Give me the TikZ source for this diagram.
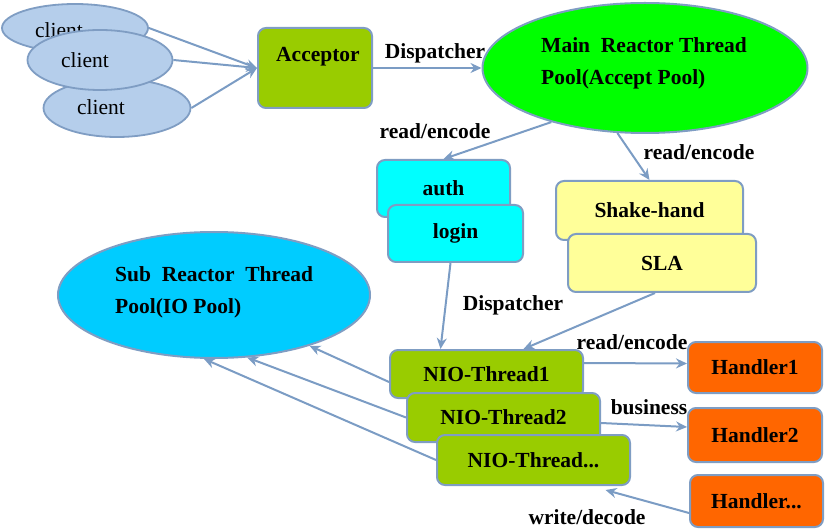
\documentclass[tikz,border=0pt]{standalone}
\usepackage{fontspec}
\setmainfont{Liberation Serif}
\usetikzlibrary{shapes.geometric,arrows.meta}
\definecolor{edgeblue}{HTML}{7B9CC4}
\definecolor{bordblue}{HTML}{7F9DC3}
\definecolor{clientfill}{HTML}{B5CEEB}
\definecolor{accgreen}{HTML}{99CC00}
\definecolor{mainfill}{HTML}{00FF00}
\definecolor{cyanfill}{HTML}{00FFFF}
\definecolor{yelfill}{HTML}{FFFF99}
\definecolor{subfill}{HTML}{00CCFF}
\definecolor{orangefill}{HTML}{FF6600}
\begin{document}
\begin{tikzpicture}[x=1pt,y=-1pt,
  every node/.style={inner sep=0pt},
  txt/.style={font=\fontsize{21.5}{32}\selectfont},
  lbl/.style={font=\bfseries\fontsize{21.5}{32}\selectfont},
  client/.style={ellipse, draw=bordblue, fill=clientfill, line width=1.8pt},
  rbox/.style={rectangle, rounded corners=8pt, draw=bordblue, line width=2pt, font=\bfseries\fontsize{21.5}{32}\selectfont},
  pool/.style={ellipse, draw=bordblue, line width=2pt},
  conn/.style={draw=edgeblue, line width=2pt, -{Stealth[length=11pt,width=10pt]}}
]
\useasboundingbox (0,0) rectangle (827,529);

% clients
\node[client, minimum width=146pt, minimum height=48pt] (c1) at (75,28) {};
\node[txt] (c1t) at (59,30) {client};
\node[client, minimum width=147pt, minimum height=58pt] (c3) at (117,108) {};
\node[txt] (c3t) at (101,107) {client};
\node[client, minimum width=145pt, minimum height=60pt] (c2) at (100,60) {};
\node[txt] (c2t) at (85,60) {client};

% acceptor
\node[rbox, fill=accgreen, minimum width=114pt, minimum height=80pt] (acc) at (315,68) {};
\node[lbl] (acct) at (318,57) {Acceptor};

% main reactor
\node[pool, fill=mainfill, minimum width=325pt, minimum height=130pt] (main) at (645,68) {};
\node[lbl, anchor=west, align=left] (maint) at (541,63) {Main~~Reactor Thread\\Pool(Accept Pool)};

% auth / login
\node[rbox, fill=cyanfill, minimum width=133pt, minimum height=57pt] (auth) at (443.5,188.5) {auth};
\node[rbox, fill=cyanfill, minimum width=135pt, minimum height=57pt] (login) at (455.5,233.5) {login};

% shake / SLA
\node[rbox, fill=yelfill, minimum width=187pt, minimum height=59pt] (shake) at (649.5,210.5) {Shake-hand};
\node[rbox, fill=yelfill, minimum width=188pt, minimum height=58pt] (sla) at (662,263) {SLA};

% sub reactor
\node[pool, fill=subfill, minimum width=312pt, minimum height=126pt] (sub) at (214,295) {};
\node[lbl, anchor=west, align=left] (subt) at (115,292) {Sub~~Reactor~~Thread\\Pool(IO Pool)};

% NIO threads
\node[rbox, fill=accgreen, minimum width=193pt, minimum height=48pt] (nio1) at (486.5,374) {NIO-Thread1};
\node[rbox, fill=accgreen, minimum width=193pt, minimum height=49pt] (nio2) at (503.5,417.5) {NIO-Thread2};
\node[rbox, fill=accgreen, minimum width=193pt, minimum height=50pt] (nio3) at (533.5,460) {NIO-Thread...};

% handlers
\node[rbox, fill=orangefill, minimum width=134pt, minimum height=51pt] (h1) at (755,367.5) {Handler1};
\node[rbox, fill=orangefill, minimum width=134pt, minimum height=54pt] (h2) at (755,435) {Handler2};
\node[rbox, fill=orangefill, minimum width=133pt, minimum height=52pt] (h3) at (756.5,501) {Handler...};

% connectors
\draw[conn] (c1.east) -- (acc.west);
\draw[conn] (c2.east) -- (acc.west);
\draw[conn] (c3.east) -- (acc.west);

\draw[conn] (acc.east) -- (main.west);
\node[lbl] (l1) at (435,53) {Dispatcher};

\draw[conn] (main.210) -- (auth.north);
\node[lbl] (l2) at (435,131) {read/encode};
\draw[conn] (main.247) -- (shake.north);
\node[lbl] (l3) at (699,152) {read/encode};

\draw[conn] ([xshift=-5pt]login.south) -- ([xshift=-46pt]nio1.north);
\node[lbl] (l4) at (513,305) {Dispatcher};
\draw[conn] ([xshift=-7pt]sla.south) -- ([xshift=37pt]nio1.north);

\draw[conn] ([yshift=11pt]nio1.east) -- ([yshift=4pt]h1.west);
\node[lbl] (l5) at (632,342) {read/encode};
\draw[conn] ([yshift=-5.5pt]nio2.east) -- ([yshift=8pt]h2.west);
\node[lbl] (l6) at (649,407) {business};
\draw[conn] ([yshift=-12pt]h3.west) -- ([xshift=72pt,yshift=-4pt]nio3.south);
\node[lbl] (l7) at (587,517) {write/decode};

\draw[conn] ([yshift=-8pt]nio1.west) -- (sub.-28);
\draw[conn] (nio2.west) -- (sub.-62);
\draw[conn] (nio3.west) -- (sub.-99);
\end{tikzpicture}
\end{document}
